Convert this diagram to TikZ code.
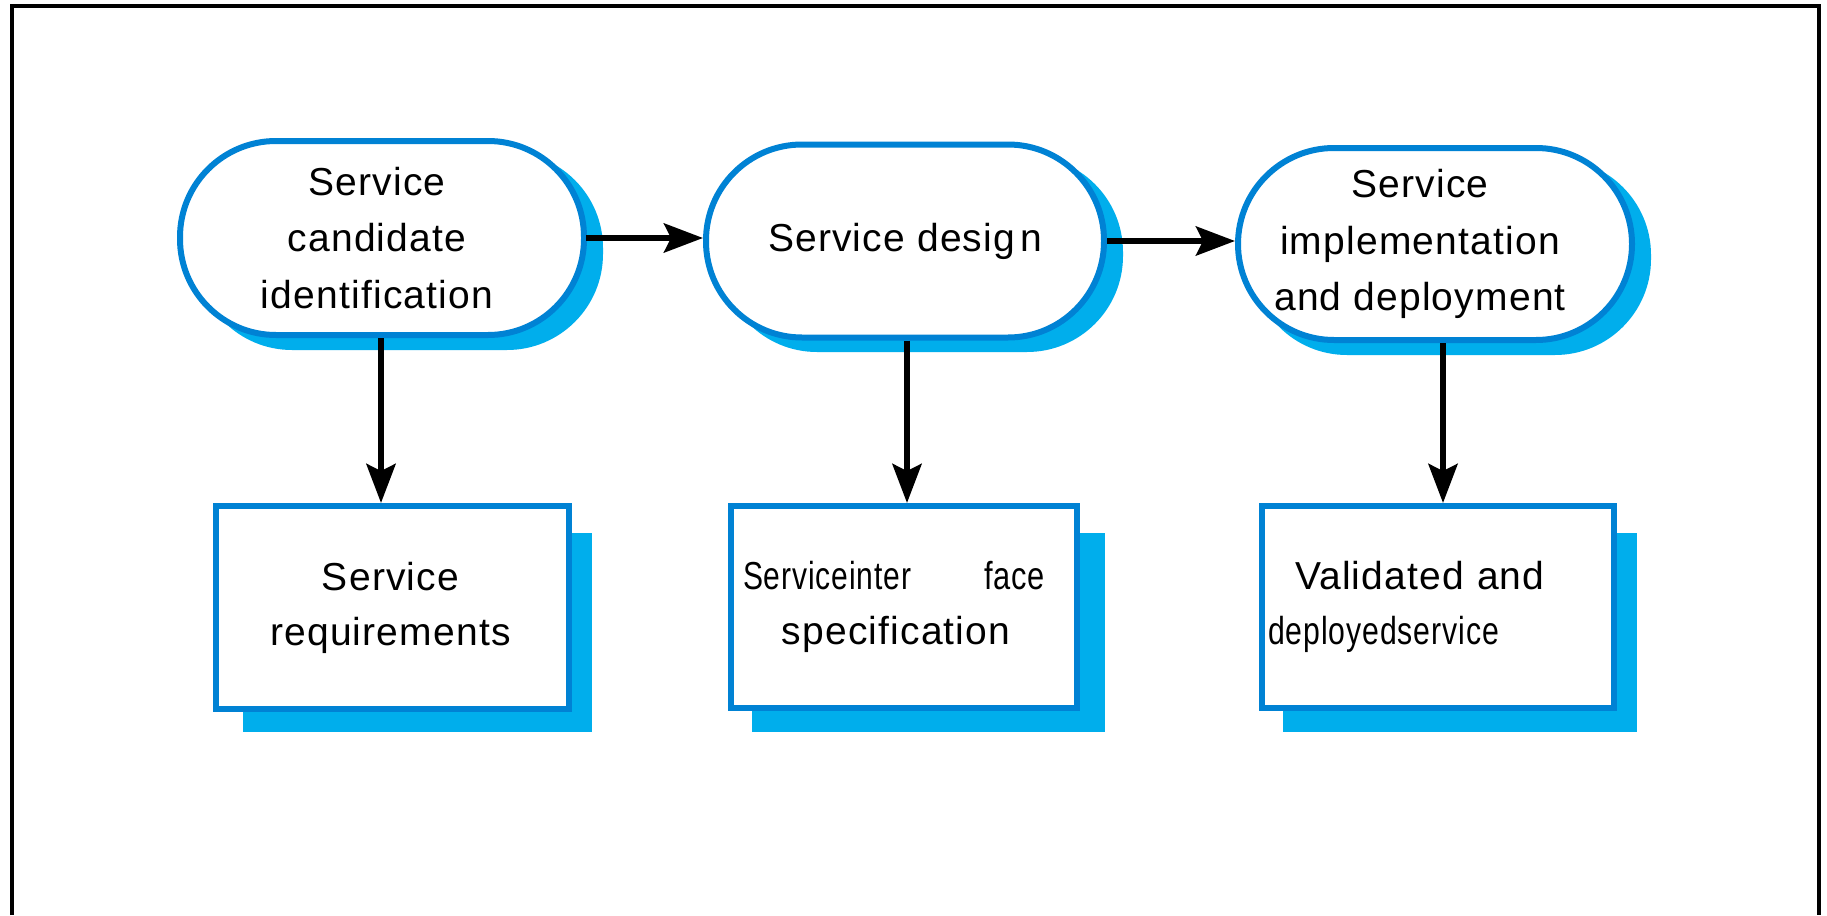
\documentclass[tikz,border=0pt]{standalone}
\usepackage{fontspec}
\setmainfont{Liberation Sans}
\newfontfamily\lsans{Liberation Sans}[LetterSpace=3]
\usetikzlibrary{arrows.meta,calc}
\definecolor{edgeblue}{RGB}{0,130,212}
\definecolor{shadeblue}{RGB}{0,174,236}
\tikzset{
  stadium/.style={draw=edgeblue, line width=6pt, fill=white, rounded corners=96pt,
    inner sep=0pt, align=center, font=\lsans\fontsize{39}{56.5}\selectfont},
  outbox/.style={draw=edgeblue, line width=6pt, fill=white, inner sep=0pt,
    font=\lsans\fontsize{39}{55}\selectfont},
  flow/.style={line width=6pt, -{Stealth[length=39pt,width=29pt,inset=7pt]}},
  shade/.style={fill=shadeblue}
}
\begin{document}
\begin{tikzpicture}[x=1pt,y=-1pt]
\useasboundingbox (0,0) rectangle (1827,915);
\fill[white] (0,0) rectangle (1827,915);
% frame (open at the bottom)
\draw[line width=4pt, line join=miter] (11.5,915) -- (11.5,6) -- (1819,6) -- (1819,915);

% shadows of the stadiums
\fill[shade, rounded corners=96pt] (196,152) rectangle (603,350);
\fill[shade, rounded corners=96pt] (721,156) rectangle (1123,352);
\fill[shade, rounded corners=96pt] (1251,159) rectangle (1651,355);
% shadows of the boxes
\fill[shade] (243,533) rectangle (592,732);
\fill[shade] (752,533) rectangle (1105,732);
\fill[shade] (1283,533) rectangle (1637,732);

% process steps
\node[stadium, minimum width=404pt, minimum height=194pt] (s1) at (382,238)
  {\hspace*{-10pt}Service\\\hspace*{-10pt}candidate\\\hspace*{-10pt}identification};
\node[stadium, minimum width=398pt, minimum height=193pt] (s2) at (905,241)
  {Service desig\kern5pt n};
\node[stadium, minimum width=394pt, minimum height=192pt] (s3) at (1435,244)
  {\hspace*{-30pt}Service\\\hspace*{-30pt}implementation\\\hspace*{-30pt}and deployment};

% outputs
\node[outbox, minimum width=353pt, minimum height=203pt, align=center] (b1) at (392.5,607.5)
  {\hspace*{-4pt}Service\\\hspace*{-4pt}requirements};
\node[outbox, minimum width=346pt, minimum height=202pt, align=center] (b2) at (904,607)
  {\hspace*{-20pt}\makebox[302pt]{\scalebox{0.77}[1]{Serviceinter}\hfill\scalebox{0.79}[1]{face}}\\
   \hspace*{-16pt}specification};
\node[outbox, minimum width=352pt, minimum height=202pt, text width=340pt, align=left] (b3) at (1438,607)
  {\hspace*{27pt}Validated and\\\scalebox{0.775}[1]{deployedservice}};

% connectors
\draw[flow] ([xshift=-1pt]s1.east) -- (s1.east -| s2.west);
\draw[flow] (s2.east) -- (s2.east -| s3.west);
\draw[flow] ([xshift=-1pt]s1.south) -- ([xshift=-1pt]s1.south |- b1.north);
\draw[flow] ([xshift=2pt]s2.south) -- ([xshift=2pt]s2.south |- b2.north);
\draw[flow] ([xshift=8pt]s3.south) -- ([xshift=8pt]s3.south |- b3.north);
\end{tikzpicture}
\end{document}
